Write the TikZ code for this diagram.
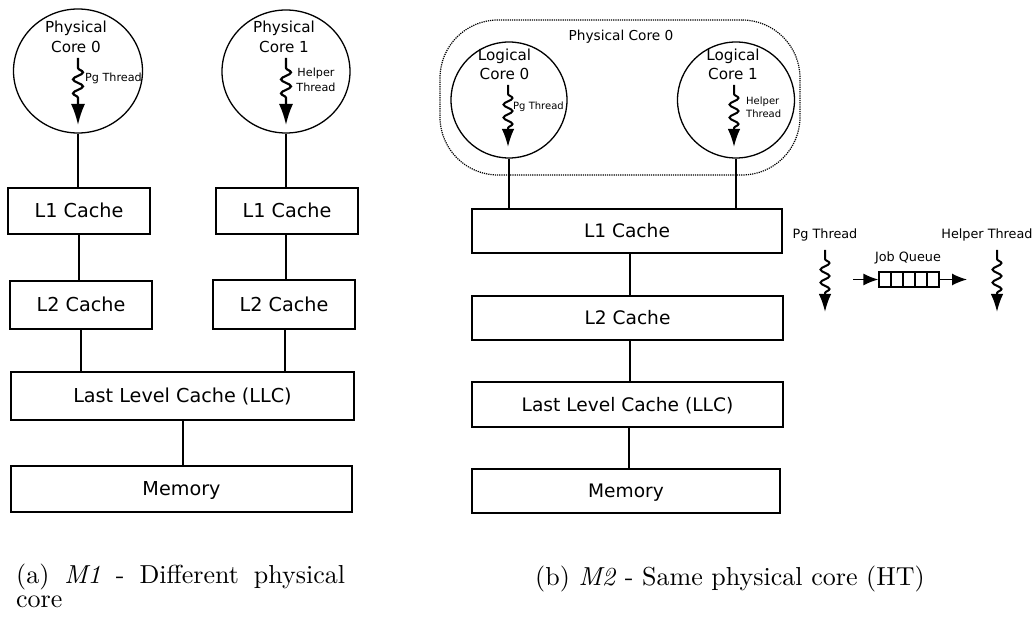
\documentclass[tikz,border=0pt]{standalone}
\usepackage{fontspec}
\usepackage{graphicx}
\newfontfamily\diagfont{DejaVu Sans}
\usetikzlibrary{arrows.meta,decorations.pathmorphing,shapes.geometric}

\tikzset{
  cachebox/.style 2 args={draw, line width=1.3pt, minimum width=#1, minimum height=#2,
    inner sep=0pt, text height=13.9pt, text depth=0pt,
    font=\diagfont\fontsize{19.2}{23}\selectfont},
  cacheboxr/.style 2 args={cachebox={#1}{#2}, text height=13.5pt,
    font=\diagfont\fontsize{18.6}{22}\selectfont},
  core/.style 2 args={draw, shape=ellipse, line width=1.3pt, minimum width=#1,
    minimum height=#2, inner sep=0pt},
  corelabel/.style={anchor=base, inner sep=0pt, font=\diagfont\fontsize{15.2}{18}\selectfont},
  smalllabel/.style={inner sep=0pt, font=\diagfont\fontsize{11.2}{15}\selectfont},
  tinylabel/.style={inner sep=0pt, font=\diagfont\fontsize{10}{13}\selectfont},
  sidelabel/.style={inner sep=0pt, font=\diagfont\fontsize{12.8}{15}\selectfont},
  link/.style={line width=1.3pt},
  threadwave/.style={line width=2.2pt, decorate,
    decoration={snake, amplitude=5pt, segment length=14pt, pre length=10pt, post length=0pt}},
  threadtip/.style={line width=2pt, -{Latex[length=21pt,width=14pt]}},
  threadwaves/.style={line width=2pt, decorate,
    decoration={snake, amplitude=4.5pt, segment length=13pt, pre length=9pt, post length=0pt}},
  threadtips/.style={line width=2pt, -{Latex[length=18pt,width=12.5pt]}},
  qarrow/.style={line width=1.4pt, -{Latex[length=15pt,width=12pt]}},
  caption/.style={anchor=base west, inner sep=0pt},
}

\begin{document}
\begin{tikzpicture}[x=1pt,y=-1pt]
\useasboundingbox (0,0) rectangle (1034,620);

% ---------- (a) two physical cores ----------
\node[core={129pt}{124pt}] (pc0) at (78,71) {};
\node[core={128pt}{123pt}] (pc1) at (286,71.5) {};
\node[corelabel] (pc0t1) at (76,33) {Physical};
\node[corelabel] (pc0t2) at (76,52.5) {Core 0};
\node[corelabel] (pc1t1) at (284,33) {Physical};
\node[corelabel] (pc1t2) at (284,52.5) {Core 1};

\coordinate (t0s) at (78,58);  \coordinate (t0m) at (78,104);  \coordinate (t0e) at (78,125);
\coordinate (t1s) at (286,58); \coordinate (t1m) at (286,104); \coordinate (t1e) at (286,125);
\draw[threadwave] (t0s) -- (t0m); \draw[threadtip] (t0m) -- (t0e);
\draw[threadwave] (t1s) -- (t1m); \draw[threadtip] (t1m) -- (t1e);
\node[smalllabel, anchor=west] (pg0) at (85,78) {Pg Thread};
\node[smalllabel, align=center] (hl0) at (316,79.5) {Helper\\Thread};

\node[cachebox={142pt}{46pt}] (l1a) at (79,211) {L1 Cache};
\node[cachebox={142pt}{46pt}] (l1b) at (287,211) {L1 Cache};
\node[cachebox={142pt}{48pt}] (l2a) at (81,305) {L2 Cache};
\node[cachebox={142pt}{49pt}] (l2b) at (284,304.5) {L2 Cache};
\node[cachebox={343pt}{48pt}] (llca) at (182.5,396) {Last Level Cache (LLC)};
\node[cachebox={341pt}{46pt}] (mema) at (181.5,489) {Memory};

\draw[link] (pc0.south) -- (pc0.south |- l1a.north);
\draw[link] (pc1.south) -- (pc1.south |- l1b.north);
\draw[link] (l1a.south) -- (l1a.south |- l2a.north);
\draw[link] ([xshift=-1pt]l1b.south) -- ([xshift=-1pt]l1b.south |- l2b.north);
\draw[link] (l2a.south) -- (l2a.south |- llca.north);
\draw[link] ([xshift=1pt]l2b.south) -- ([xshift=1pt]l2b.south |- llca.north);
\draw[link] ([xshift=0.5pt]llca.south) -- ([xshift=0.5pt]llca.south |- mema.north);

% ---------- (b) two logical cores on one physical core ----------
\node[draw, line width=1.2pt, densely dotted, rounded corners=58pt,
      minimum width=360pt, minimum height=155pt, inner sep=0pt] (phys) at (620,97.5) {};
\node[inner sep=0pt, font=\diagfont\fontsize{13.7}{16}\selectfont] (physt) at (621,37) {Physical Core 0};

\node[core={116pt}{116pt}] (lc0) at (509,100) {};
\node[core={117pt}{116pt}] (lc1) at (736,100) {};
\node[corelabel] (lc0t1) at (504.5,61) {Logical};
\node[corelabel] (lc0t2) at (504.5,80) {Core 0};
\node[corelabel] (lc1t1) at (733,61) {Logical};
\node[corelabel] (lc1t2) at (733,80) {Core 1};

\coordinate (t2s) at (508,85);  \coordinate (t2m) at (508,129); \coordinate (t2e) at (508,147);
\coordinate (t3s) at (734,85);  \coordinate (t3m) at (734,129); \coordinate (t3e) at (734,147);
\draw[threadwaves] (t2s) -- (t2m); \draw[threadtips] (t2m) -- (t2e);
\draw[threadwaves] (t3s) -- (t3m); \draw[threadtips] (t3m) -- (t3e);
\node[tinylabel, anchor=west] (pg1) at (513,107) {Pg Thread};
\node[tinylabel, align=left, anchor=west] (hl1) at (746,107.5) {Helper\\Thread};

\node[cacheboxr={310pt}{44pt}] (l1c) at (627,231) {L1 Cache};
\node[cacheboxr={311pt}{44pt}] (l2c) at (627.5,318) {L2 Cache};
\node[cacheboxr={311pt}{45pt}] (llcc) at (627.5,404.5) {Last Level Cache (LLC)};
\node[cacheboxr={308pt}{44pt}] (memc) at (626,491) {Memory};

\draw[link] (lc0.south) -- (lc0.south |- l1c.north);
\draw[link] (lc1.south) -- (lc1.south |- l1c.north);
\draw[link] ([xshift=3pt]l1c.south) -- ([xshift=3pt]l1c.south |- l2c.north);
\draw[link] ([xshift=2.5pt]l2c.south) -- ([xshift=2.5pt]l2c.south |- llcc.north);
\draw[link] ([xshift=1.5pt]llcc.south) -- ([xshift=1.5pt]llcc.south |- memc.north);

% ---------- threads sharing a job queue ----------
\node[sidelabel] (pgs) at (825,235) {Pg Thread};
\node[sidelabel] (hls) at (987,235) {Helper Thread};
\node[sidelabel] (jqt) at (908,258) {Job Queue};
\coordinate (t4s) at (825,250); \coordinate (t4m) at (825,294); \coordinate (t4e) at (825,312);
\coordinate (t5s) at (997,250); \coordinate (t5m) at (997,294); \coordinate (t5e) at (997,312);
\draw[threadwaves] (t4s) -- (t4m); \draw[threadtips] (t4m) -- (t4e);
\draw[threadwaves] (t5s) -- (t5m); \draw[threadtips] (t5m) -- (t5e);

\node[draw, line width=1.3pt, minimum width=60pt, minimum height=15pt, inner sep=0pt] (jq) at (909,279.5) {};
\foreach \cx in {891,903,915,927} \draw[line width=1.3pt] (\cx,272) -- (\cx,287);
\coordinate (qin) at (853,279.5);
\coordinate (qout) at (967,279.5);
\draw[qarrow] (qin) -- (jq.west);
\draw[qarrow] (jq.east) -- (qout);

% ---------- captions ----------
\node[caption] (capa1) at (16,583.5) {\scalebox{2.6}{\makebox[126.5pt][s]{(a) \textit{M1} - Different physical}}};
\node[caption] (capa2) at (16,607) {\scalebox{2.6}{core}};
\node[caption] (capb) at (535,585.5) {\scalebox{2.6}{(b) \textit{M2} - Same physical core (HT)}};
\end{tikzpicture}
\end{document}
